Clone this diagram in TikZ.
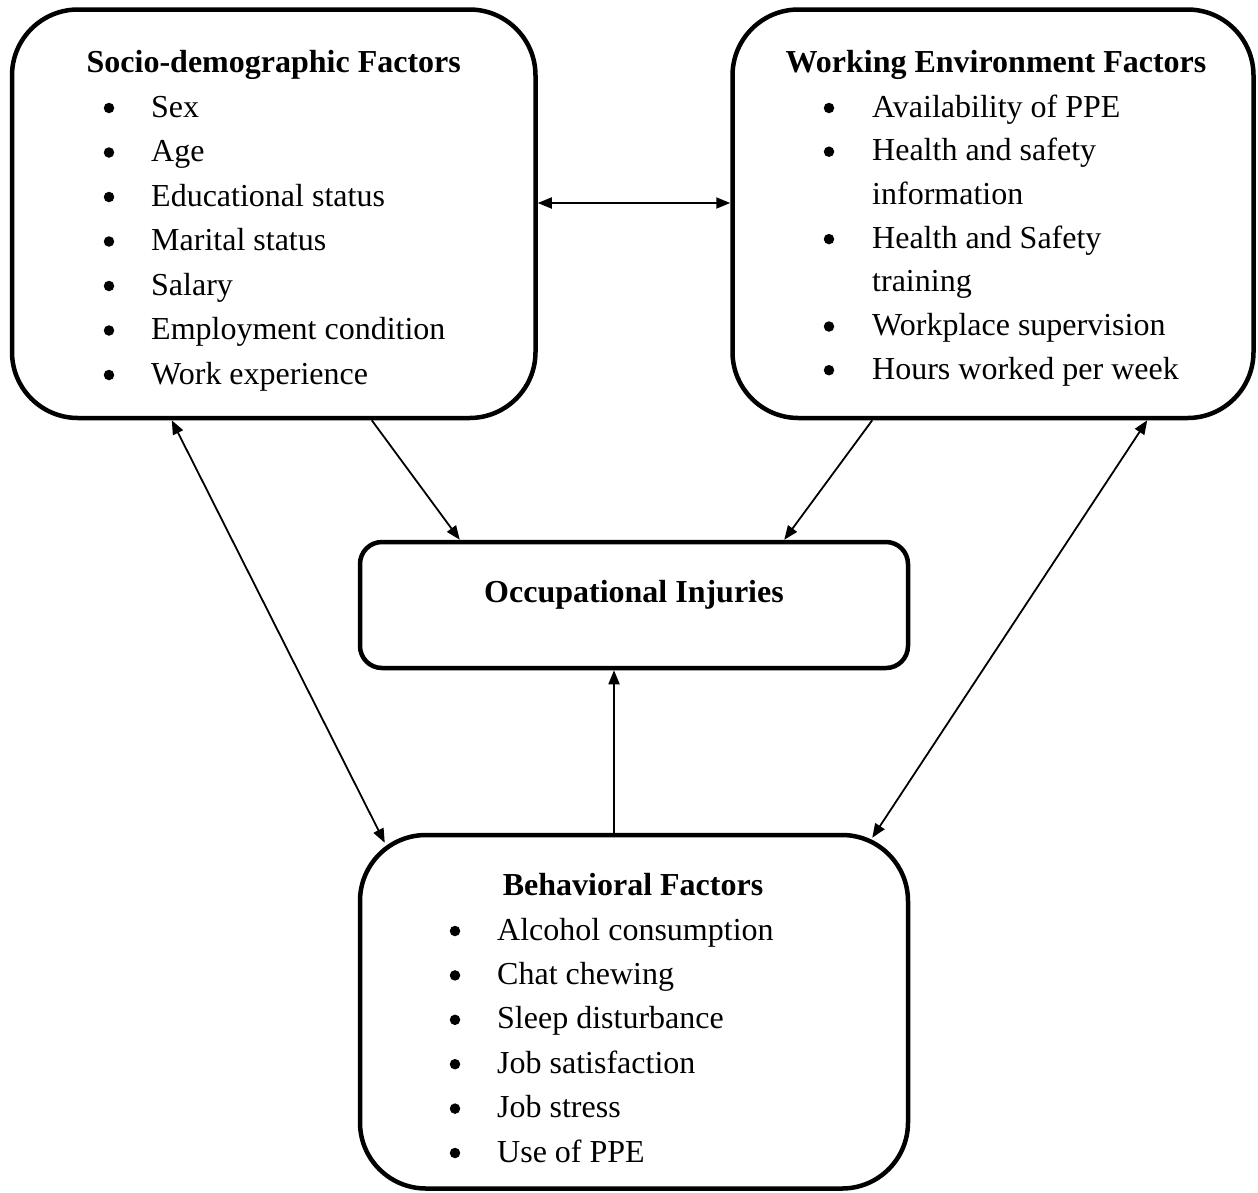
\documentclass[tikz,border=0pt]{standalone}
\usepackage{fontspec}
\setmainfont{Liberation Serif}
\usetikzlibrary{arrows.meta,calc}
\begin{document}
\begin{tikzpicture}[x=1pt,y=-1pt,
  bigbox/.style={draw, line width=4.5pt, rounded corners=66pt, inner sep=0pt},
  occbox/.style={draw, line width=4.5pt, rounded corners=22pt, inner sep=0pt},
  hdr/.style={font=\fontsize{32}{40}\selectfont\bfseries, anchor=base, inner sep=0pt},
  itm/.style={font=\fontsize{32}{40}\selectfont, anchor=base west, inner sep=0pt},
  bul/.style={circle, fill=black, minimum size=10.5pt, inner sep=0pt, yshift=9pt},
  conn/.style={line width=1.8pt, -{Triangle[length=14pt,width=11pt]}},
  dconn/.style={line width=1.8pt, {Triangle[length=14pt,width=11pt]}-{Triangle[length=14pt,width=11pt]}},
]
\useasboundingbox (0,0) rectangle (1258,1192);

% boxes
\node[bigbox, minimum width=523.5pt, minimum height=408.5pt] (socio) at (273.75,213.75) {};
\node[bigbox, minimum width=521pt, minimum height=408.5pt] (work) at (993,213.75) {};
\node[occbox, minimum width=548pt, minimum height=126pt] (occ) at (634,605) {};
\node[bigbox, minimum width=548pt, minimum height=353.5pt] (beh) at (634,1011.75) {};

% socio-demographic
\node[hdr] (socioT) at (273.75,72) {Socio-demographic Factors};
\foreach \t [count=\i] in {Sex,Age,Educational status,Marital status,Salary,Employment condition,Work experience} {
  \node[bul] (sb\i) at (109,{117+44.5*(\i-1)}) {};
  \node[itm] (si\i) at (151,{117+44.5*(\i-1)}) {\t};
}

% working environment
\node[hdr] (workT) at (996,72) {Working Environment Factors};
\node[bul] (wb1) at (829,117) {};
\node[itm] (wi1) at (872,117) {Availability of PPE};
\node[bul] (wb2) at (829,160.7) {};
\node[itm] (wi2) at (872,160.7) {Health and safety};
\node[itm] (wi3) at (872,204.4) {information};
\node[bul] (wb4) at (829,248.1) {};
\node[itm] (wi4) at (872,248.1) {Health and Safety};
\node[itm] (wi5) at (872,291.8) {training};
\node[bul] (wb6) at (829,335.5) {};
\node[itm] (wi6) at (872,335.5) {Workplace supervision};
\node[bul] (wb7) at (829,379.2) {};
\node[itm] (wi7) at (872,379.2) {Hours worked per week};

% occupational injuries
\node[hdr] (occT) at (634,602) {Occupational Injuries};

% behavioral
\node[hdr] (behT) at (633,895) {Behavioral Factors};
\foreach \t [count=\i] in {Alcohol consumption,Chat chewing,Sleep disturbance,Job satisfaction,Job stress,Use of PPE} {
  \node[bul] (bb\i) at (455,{940+44.4*(\i-1)}) {};
  \node[itm] (bi\i) at (497,{940+44.4*(\i-1)}) {\t};
}

% connectors
\draw[dconn] ($(socio.east)+(0,-10.75)$) -- ($(work.west)+(0,-10.75)$);
\draw[conn] ($(socio.south west)+(362,0)$) -- ($(occ.north west)+(102,0)$);
\draw[conn] ($(work.south west)+(142,0)$) -- ($(occ.north east)+(-126,0)$);
\draw[conn] ($(beh.north)+(-20,0)$) -- ($(occ.south)+(-20,0)$);
\draw[dconn] ($(socio.south west)+(162,0)$) -- ($(beh.north west)+(27,10)$);
\draw[dconn] ($(work.south west)+(417,0)$) -- ($(beh.north east)+(-38,5)$);
\end{tikzpicture}
\end{document}
